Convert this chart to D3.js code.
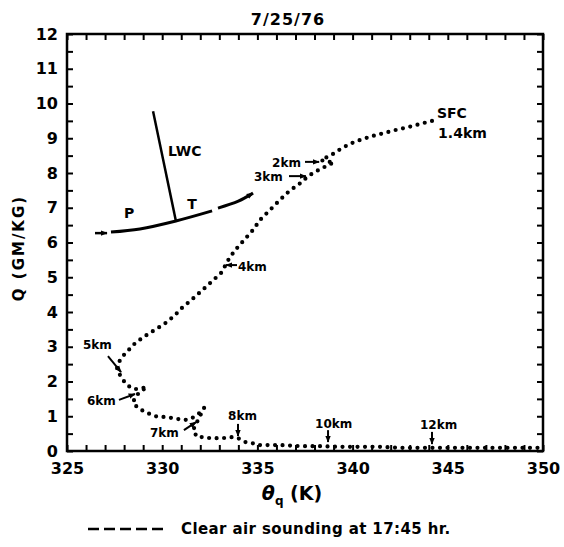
<!DOCTYPE html>
<html><head><meta charset="utf-8">
<script src="https://cdn.jsdelivr.net/npm/d3@7"></script>
<style>body{margin:0;background:#fff}text{font-family:"DejaVu Sans",sans-serif;font-weight:bold;fill:#000}</style>
</head><body><svg id="c" width="564" height="547"></svg>
<script>
// ---------- data ----------
const title = "7/25/76";
const xLabel = "θ";
const xLabelSub = "q";
const xLabelUnit = " (K)";
const yLabel = "Q (GM/KG)";
const legendText = "Clear air sounding at 17:45 hr.";
const xTickValues = d3.range(325, 351, 1);
const xTickLabels = [325, 330, 335, 340, 345, 350];
const yTickValues = d3.range(0, 12.01, 0.5);
const yTickLabels = [0,1,2,3,4,5,6,7,8,9,10,11,12];

// clear air sounding (theta_q in K, Q in g/kg), surface to 12 km
const soundingTheta = [344.17,343.54,342.91,342.28,341.65,341.02,340.39,339.86,339.34,339.08,338.66,338.34,338.71,339.02,338.76,338.39,338.03,337.66,337.34,336.97,336.55,336.03,335.56,335.14,334.77,334.30,333.88,333.56,333.35,333.14,332.65,332.15,331.60,331.04,330.67,330.25,329.78,329.36,328.94,328.47,328.15,327.89,327.73,327.63,327.78,328.05,328.31,328.57,328.94,329.20,328.83,328.57,328.47,328.73,329.10,329.46,329.78,330.15,330.51,330.83,331.20,331.57,331.83,332.09,332.20,331.88,331.62,331.83,332.14,332.51,332.88,333.19,333.67,333.98,334.35,334.72,335.03,336.19,337.24,338.29,339.34,340.39,341.44,342.49,344.07,345.64,347.22,348.79,349.84];
const soundingQ = [9.50,9.41,9.32,9.24,9.15,9.06,8.95,8.84,8.68,8.58,8.46,8.37,8.32,8.32,8.23,8.14,8.03,7.91,7.74,7.60,7.42,7.14,6.88,6.65,6.36,6.07,5.81,5.58,5.38,5.15,4.90,4.65,4.38,4.12,3.91,3.71,3.54,3.40,3.25,3.05,2.85,2.71,2.56,2.39,2.19,1.96,1.84,1.78,1.81,1.84,1.70,1.55,1.38,1.24,1.12,1.04,0.98,0.98,0.95,0.92,0.89,0.95,1.04,1.15,1.24,0.89,0.60,0.40,0.40,0.37,0.37,0.37,0.40,0.37,0.26,0.23,0.17,0.17,0.14,0.14,0.12,0.12,0.12,0.09,0.09,0.09,0.09,0.09,0.09];

// height labels (text start position in data units)
const heightText  = ["SFC","1.4km","2km","3km","4km","5km","6km","7km","8km","10km","12km"];
const heightTheta = [344.43,344.49,335.77,334.82,333.98,325.84,326.05,329.36,333.46,338.03,343.54];
const heightQ     = [9.58,9.01,8.17,7.77,5.18,2.93,1.32,0.40,0.89,0.66,0.63];

// level arrows (from -> to)
const arrowFromTheta = [337.50,336.66,333.93,327.15,327.73,331.14,333.98,338.71,344.17];
const arrowFromQ     = [8.32,7.91,5.35,2.73,1.47,0.60,0.78,0.60,0.55];
const arrowToTheta   = [338.24,337.55,333.35,327.84,328.57,331.78,333.98,338.71,344.17];
const arrowToQ       = [8.32,7.91,5.35,2.27,1.64,0.83,0.43,0.26,0.20];

// mixing vector diagram (P, T, LWC)
const pArrowTheta = [326.47,327.10];
const pArrowQ = [6.27,6.27];
const pCurveTheta = [327.31,328.83,330.72,332.62];
const pCurveQ = [6.30,6.39,6.62,6.91];
const tCurveTheta = [332.93,334.00,334.77];
const tCurveQ = [6.99,7.19,7.42];
const lwcTheta = [329.52,330.72];
const lwcQ = [9.78,6.62];
const vecLabelText = ["LWC","P","T"];
const vecLabelTheta = [330.30,328.26,331.57];
const vecLabelQ = [8.49,6.71,6.96];

// ---------- drawing ----------
const svg = d3.select("#c");
const L = 67, R = 543, T = 34, B = 451;
const x = d3.scaleLinear().domain([325, 350]).range([L, R]);
const y = d3.scaleLinear().domain([0, 12]).range([B, T]);

const defs = svg.append("defs");
defs.append("marker").attr("id","ah").attr("viewBox","0 0 10 10")
  .attr("refX",9).attr("refY",5).attr("markerWidth",7).attr("markerHeight",7)
  .attr("markerUnits","userSpaceOnUse").attr("orient","auto")
  .append("path").attr("d","M0,1 L10,5 L0,9 z").attr("fill","#000");

// axes
function styleAxis(g){
  g.select(".domain").remove();
  g.selectAll(".tick line").attr("stroke","#000").attr("stroke-width",2);
  g.selectAll(".tick text").style("font-size","16px").style("font-family","DejaVu Sans").style("font-weight","bold").attr("fill","#000");
}
const fmtX = d => xTickLabels.includes(d) ? String(d) : "";
const fmtY = d => yTickLabels.includes(d) ? String(d) : "";
svg.append("g").attr("transform",`translate(0,${B})`)
  .call(d3.axisBottom(x).tickValues(xTickValues).tickFormat(fmtX).tickSize(-6).tickPadding(12))
  .call(styleAxis);
svg.append("g").attr("transform",`translate(0,${T})`)
  .call(d3.axisTop(x).tickValues(xTickValues).tickFormat(()=>"").tickSize(-6))
  .call(styleAxis);
svg.append("g").attr("transform",`translate(${L},0)`)
  .call(d3.axisLeft(y).tickValues(yTickValues).tickFormat(fmtY).tickSize(-6).tickPadding(9))
  .call(styleAxis);
svg.append("g").attr("transform",`translate(${R},0)`)
  .call(d3.axisRight(y).tickValues(yTickValues).tickFormat(()=>"").tickSize(-6))
  .call(styleAxis);

svg.append("rect").attr("x",L).attr("y",T).attr("width",R-L).attr("height",B-T)
  .attr("fill","none").attr("stroke","#000").attr("stroke-width",2.5);

// title
svg.append("text").attr("x",288).attr("y",25).attr("text-anchor","middle")
  .style("font-size","16px").style("letter-spacing","1px").text(title);

// y label
svg.append("text").attr("transform","translate(24,248) rotate(-90)").attr("text-anchor","middle")
  .style("font-size","15px").style("letter-spacing","2px").text(yLabel);

// x label
const xl = svg.append("text").attr("x",292).attr("y",500).attr("text-anchor","middle").style("font-size","19px");
xl.append("tspan").style("font-style","italic").text(xLabel);
xl.append("tspan").attr("dy",5).style("font-size","12px").text(xLabelSub);
xl.append("tspan").attr("dy",-5).text(xLabelUnit);

// legend
svg.append("line").attr("x1",88).attr("x2",164).attr("y1",529).attr("y2",529)
  .attr("stroke","#000").attr("stroke-width",2.5).attr("stroke-dasharray","11,5");
svg.append("text").attr("x",181).attr("y",534).style("font-size","15px").style("letter-spacing","0.4px").text(legendText);

// sounding curve (dotted)
const pts = soundingTheta.map((t,i)=>[t, soundingQ[i]]);
const line = d3.line().x(d=>x(d[0])).y(d=>y(d[1]));
svg.append("path").attr("d",line(pts)).attr("fill","none").attr("stroke","#000")
  .attr("stroke-width",4.2).attr("stroke-linecap","round").attr("stroke-dasharray","0,7.5");

// height labels
heightText.forEach((t,i)=>{
  svg.append("text").attr("x",x(heightTheta[i])).attr("y",y(heightQ[i]))
    .style("font-size", i<2 ? "14px" : "12px").text(t);
});
arrowFromTheta.forEach((t,i)=>{
  svg.append("line").attr("x1",x(t)).attr("y1",y(arrowFromQ[i]))
    .attr("x2",x(arrowToTheta[i])).attr("y2",y(arrowToQ[i]))
    .attr("stroke","#000").attr("stroke-width",2).attr("marker-end","url(#ah)");
});

// vector diagram
const smooth = d3.line().x(d=>x(d[0])).y(d=>y(d[1])).curve(d3.curveCatmullRom);
svg.append("path").attr("d",line(pArrowTheta.map((t,i)=>[t,pArrowQ[i]])))
  .attr("stroke","#000").attr("stroke-width",2.5).attr("fill","none").attr("marker-end","url(#ah)");
svg.append("path").attr("d",smooth(pCurveTheta.map((t,i)=>[t,pCurveQ[i]])))
  .attr("stroke","#000").attr("stroke-width",3).attr("fill","none");
svg.append("path").attr("d",smooth(tCurveTheta.map((t,i)=>[t,tCurveQ[i]])))
  .attr("stroke","#000").attr("stroke-width",3).attr("fill","none").attr("marker-end","url(#ah)");
svg.append("path").attr("d",line(lwcTheta.map((t,i)=>[t,lwcQ[i]])))
  .attr("stroke","#000").attr("stroke-width",2.5).attr("fill","none");
vecLabelText.forEach((t,i)=>{
  svg.append("text").attr("x",x(vecLabelTheta[i])).attr("y",y(vecLabelQ[i]))
    .attr("text-anchor", i===0 ? "start" : "middle").style("font-size","14px").text(t);
});
</script></body></html>
